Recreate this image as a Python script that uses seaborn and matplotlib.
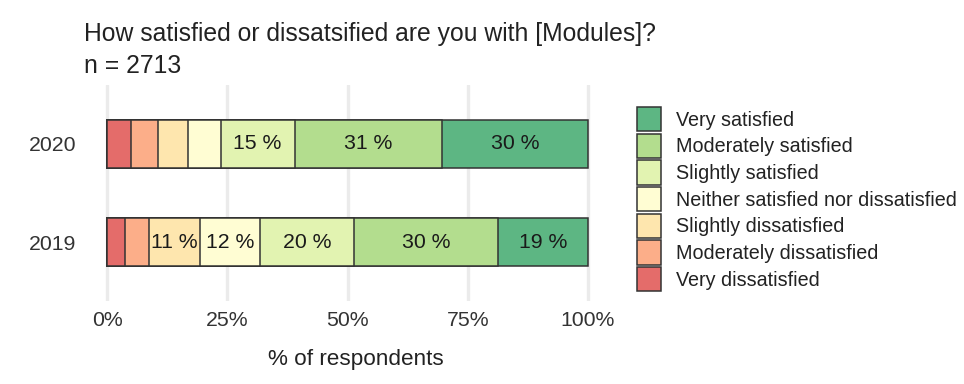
import matplotlib
matplotlib.use("Agg")
import matplotlib.pyplot as plt
import matplotlib.patches as mpatches
import numpy as np
import pandas as pd
import seaborn as sns

# Survey responses (% of respondents)
years = ["2020", "2019"]
levels = ["Very dissatisfied", "Moderately dissatisfied", "Slightly dissatisfied",
          "Neither satisfied nor dissatisfied", "Slightly satisfied",
          "Moderately satisfied", "Very satisfied"]
pct_2020 = [5.0, 5.6, 6.2, 6.8, 15.4, 30.6, 30.4]
pct_2019 = [3.7, 5.0, 10.7, 12.4, 19.6, 29.8, 18.8]
colors = ["#E46C6A", "#FCAE89", "#FEE6AE", "#FFFDD3", "#E2F3B1", "#B3DD8E", "#5DB683"]

sns.set_theme(style="white")
plt.rcParams["font.family"] = ["Liberation Sans", "DejaVu Sans"]

df = pd.DataFrame({"2020": pct_2020, "2019": pct_2019}, index=levels)
cum = df.cumsum()

fig = plt.figure(figsize=(9.64, 3.84), dpi=100)
ax = fig.add_axes([83 / 964, 1 - 301 / 384, (612 - 83) / 964, (301 - 85) / 384])

# grid behind bars
for xv in [0, 25, 50, 75, 100]:
    ax.axvline(xv, color="#EBEBEB", lw=2.4, zorder=0)

# stacked bars: draw cumulative totals from largest down
for i in range(len(levels) - 1, -1, -1):
    lvl = levels[i]
    d = pd.DataFrame({"year": years, "cum": [cum.loc[lvl, y] for y in years]})
    sns.barplot(data=d, x="cum", y="year", order=years, orient="h",
                color=colors[i], edgecolor="#333333", linewidth=1.1,
                width=0.49, saturation=1, ax=ax, zorder=2)

# labels for segments >= 10 %
for j, y in enumerate(years):
    start = 0
    for lvl in levels:
        v = df.loc[lvl, y]
        if v >= 10:
            ax.text(start + v / 2, j, f"{round(v)} %", ha="center", va="center",
                    fontsize=15.3, color="#1a1a1a", zorder=3)
        start += v

ax.set_xlim(-5, 105)
ax.set_ylim(1.6, -0.6)
ax.set_xticks([0, 25, 50, 75, 100])
ax.set_xticklabels(["0%", "25%", "50%", "75%", "100%"])
ax.tick_params(axis="both", length=0, labelsize=15.3, labelcolor="#333333")
ax.tick_params(axis="x", pad=7)
ax.tick_params(axis="y", pad=5)
ax.set_xlabel("% of respondents", fontsize=16.2, color="#222222")
ax.xaxis.set_label_coords(0.515, -0.223)
ax.set_ylabel("")
for s in ax.spines.values():
    s.set_visible(False)

fig.text(84 / 964, 1 - 22 / 384, "How satisfied or dissatsified are you with [Modules]?\nn = 2713",
         ha="left", va="top", fontsize=17.8, color="#222222", linespacing=1.42)

handles = [mpatches.Patch(facecolor=colors[i], edgecolor="#333333", linewidth=1.1, label=levels[i])
           for i in range(len(levels) - 1, -1, -1)]
fig.legend(handles=handles, loc="upper left", bbox_to_anchor=(637 / 964, 1 - 107 / 384),
           frameon=False, fontsize=14.2, handlelength=1.22, handleheight=1.52,
           labelspacing=0.12, handletextpad=0.76, borderpad=0, borderaxespad=0,
           labelcolor="#222222")

fig.savefig("out.png", dpi=100)
